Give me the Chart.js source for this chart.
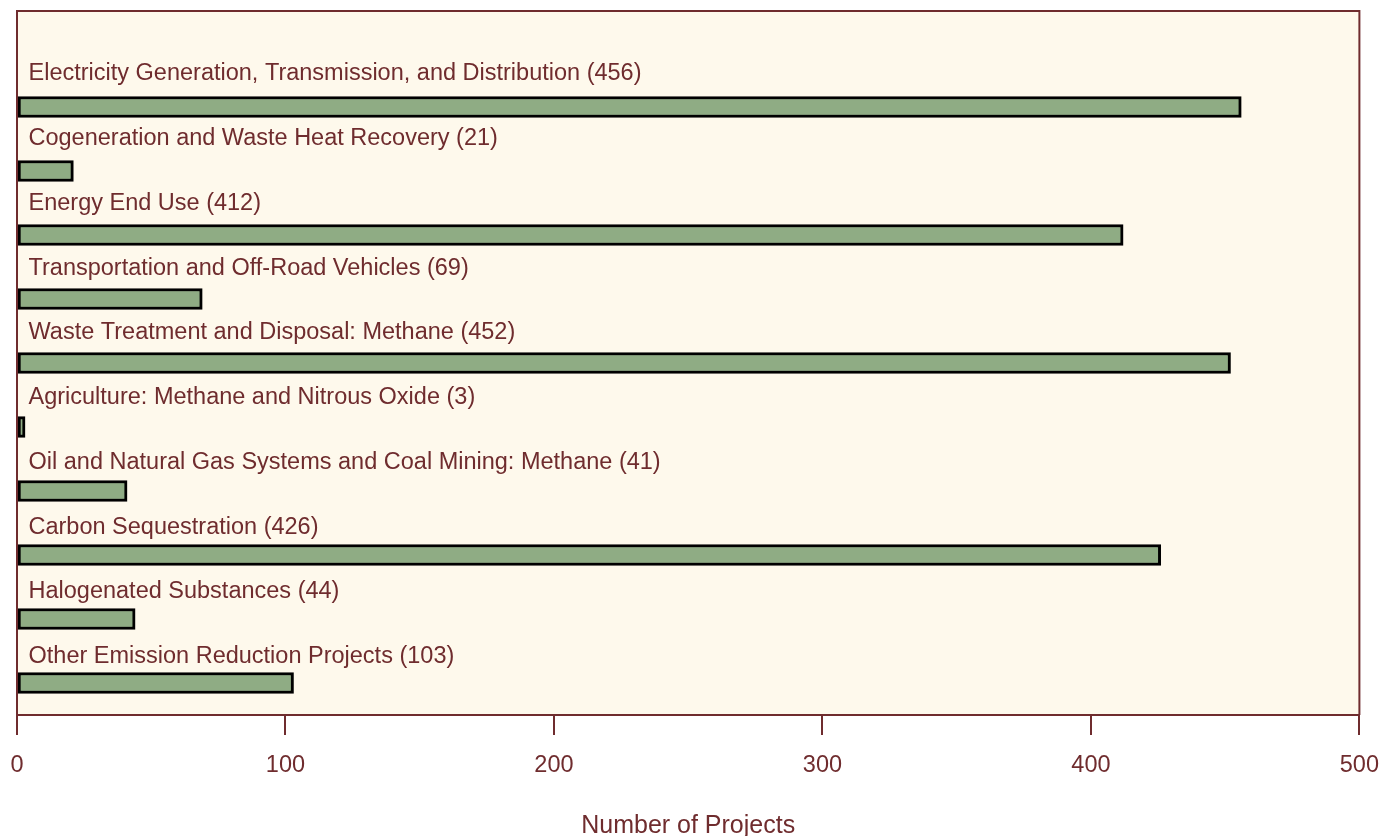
<!DOCTYPE html>
<html>
<head>
<meta charset="utf-8">
<script src="https://cdn.jsdelivr.net/npm/chart.js@4/dist/chart.umd.min.js"></script>
<style>
  html, body { margin: 0; padding: 0; background: #ffffff; }
  #wrap { width: 1382px; height: 836px; position: relative; }
</style>
</head>
<body>
<div id="wrap"><canvas id="c" width="1382" height="836"></canvas></div>
<script>
const categories = [
  'Electricity Generation, Transmission, and Distribution',
  'Cogeneration and Waste Heat Recovery',
  'Energy End Use',
  'Transportation and Off-Road Vehicles',
  'Waste Treatment and Disposal: Methane',
  'Agriculture: Methane and Nitrous Oxide',
  'Oil and Natural Gas Systems and Coal Mining: Methane',
  'Carbon Sequestration',
  'Halogenated Substances',
  'Other Emission Reduction Projects'
];
const projectCounts = [456, 21, 412, 69, 452, 3, 41, 426, 44, 103];
const xTicks = [0, 100, 200, 300, 400, 500];
const axisTitle = 'Number of Projects';

const MAROON = '#6F2C2E';
const CREAM = '#FEF9EC';
const GREEN = '#8FAC84';
const FONT = 'Liberation Sans, Arial, Helvetica, sans-serif';

const bgPlugin = {
  id: 'bgPlugin',
  beforeDraw(chart) {
    const { ctx, chartArea: a } = chart;
    ctx.save();
    ctx.fillStyle = CREAM;
    ctx.fillRect(a.left, a.top, a.right - a.left, a.bottom - a.top);
    ctx.restore();
  },
  afterDraw(chart) {
    const { ctx, chartArea: a } = chart;
    ctx.save();
    ctx.strokeStyle = MAROON;
    ctx.lineWidth = 2;
    ctx.beginPath();
    ctx.moveTo(a.left, a.bottom);
    ctx.lineTo(a.left, a.top);
    ctx.lineTo(a.right, a.top);
    ctx.lineTo(a.right, a.bottom);
    ctx.stroke();
    ctx.restore();
  }
};

const labelPlugin = {
  id: 'labelPlugin',
  afterDatasetsDraw(chart) {
    const { ctx, chartArea: a } = chart;
    const yScale = chart.scales.y;
    ctx.save();
    ctx.fillStyle = MAROON;
    ctx.font = '23.5px ' + FONT;
    ctx.textBaseline = 'alphabetic';
    ctx.textAlign = 'left';
    categories.forEach((cat, i) => {
      const yc = yScale.getPixelForValue(i + 1);
      ctx.fillText(cat + ' (' + projectCounts[i] + ')', a.left + 11.5, yc - 26.6 + 0.73 * i);
    });
    ctx.restore();
  }
};

new Chart(document.getElementById('c'), {
  type: 'bar',
  data: {
    labels: [''].concat(categories),
    datasets: [{
      data: [null].concat(projectCounts),
      backgroundColor: GREEN,
      borderColor: '#000000',
      borderWidth: 3,
      borderSkipped: false,
      barThickness: 21
    }]
  },
  options: {
    indexAxis: 'y',
    responsive: false,
    animation: false,
    devicePixelRatio: 1,
    layout: { padding: { top: 11, left: 17, right: 22, bottom: 0 } },
    plugins: { legend: { display: false }, tooltip: { enabled: false } },
    scales: {
      y: { type: 'category', display: false, offset: true },
      x: {
        type: 'linear',
        min: xTicks[0],
        max: xTicks[xTicks.length - 1],
        afterBuildTicks(scale) { scale.ticks = xTicks.map(v => ({ value: v })); },
        grid: { drawOnChartArea: false, drawTicks: true, tickLength: 20, color: MAROON, lineWidth: 2 },
        border: { display: true, color: MAROON, width: 2 },
        ticks: { color: MAROON, font: { family: FONT, size: 23.5, lineHeight: '56px' }, padding: 3, maxRotation: 0 },
        title: {
          display: true, text: axisTitle, color: MAROON,
          font: { family: FONT, size: 25, lineHeight: 1 },
          padding: { top: 17, bottom: -3 }
        }
      }
    }
  },
  plugins: [bgPlugin, labelPlugin]
});
</script>
</body>
</html>
